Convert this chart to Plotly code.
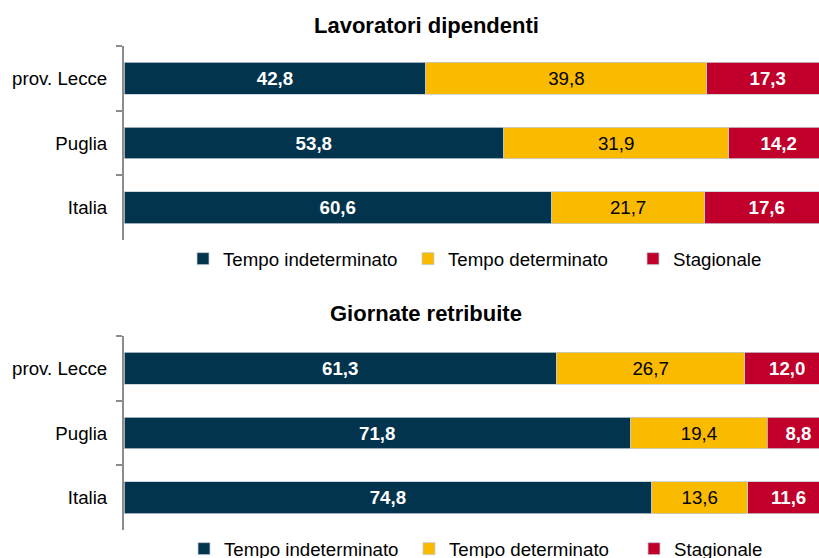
import plotly.graph_objects as go
from plotly.subplots import make_subplots

# Regions shown on both panels
categories = ["prov. Lecce", "Puglia", "Italia"]
series_names = ["Tempo indeterminato", "Tempo determinato", "Stagionale"]

# Lavoratori dipendenti (%)
lav_indeterminato = [42.8, 53.8, 60.6]
lav_determinato = [39.8, 31.9, 21.7]
lav_stagionale = [17.3, 14.2, 17.6]

# Giornate retribuite (%)
gio_indeterminato = [61.3, 71.8, 74.8]
gio_determinato = [26.7, 19.4, 13.6]
gio_stagionale = [12.0, 8.8, 11.6]

panel_titles = ["Lavoratori dipendenti", "Giornate retribuite"]

NAVY = "#03344E"
YELLOW = "#F9BA00"
RED = "#C0002A"
FONT = "Arial, Liberation Sans, sans-serif"
FS = 18.7
W, H = 819, 558
L_MARGIN = 124

colors = [NAVY, YELLOW, RED]
text_fonts = [
    dict(family=FONT, size=FS, color="white", weight="bold"),
    dict(family=FONT, size=FS, color="black"),
    dict(family=FONT, size=FS, color="white", weight="bold"),
]

fig = make_subplots(rows=2, cols=1)

panels = [
    (1, "legend", [lav_indeterminato, lav_determinato, lav_stagionale]),
    (2, "legend2", [gio_indeterminato, gio_determinato, gio_stagionale]),
]
for row, legend_id, values in panels:
    for name, vals, color, tfont in zip(series_names, values, colors, text_fonts):
        fig.add_trace(
            go.Bar(
                y=categories,
                x=vals,
                name=name,
                orientation="h",
                marker=dict(color=color, line=dict(color="#c3ccd5", width=0.8)),
                texttemplate="%{x:.1f}",
                textposition="inside",
                insidetextanchor="middle",
                insidetextfont=tfont,
                constraintext="none",
                legend=legend_id,
                hoverinfo="skip",
            ),
            row=row,
            col=1,
        )


def ydom(top_px, bottom_px):
    return [1 - bottom_px / H, 1 - top_px / H]


def xpaper(px):
    return (px - L_MARGIN) / (W - L_MARGIN)


x_max = (W - L_MARGIN) / 7.055

fig.update_xaxes(range=[0, x_max], showticklabels=False, showline=False,
                 ticks="", showgrid=False, zeroline=False, domain=[0, 1])
fig.update_yaxes(
    type="category",
    categoryorder="array",
    categoryarray=categories,
    range=[2.5, -0.5],
    tickson="boundaries",
    ticks="outside",
    ticklen=6,
    tickwidth=1.5,
    tickcolor="#8c8c8c",
    showline=True,
    linecolor="#8c8c8c",
    linewidth=2,
    ticklabelstandoff=11,
    tickfont=dict(family=FONT, size=FS, color="black"),
    showgrid=False,
    zeroline=False,
)
fig.update_yaxes(domain=ydom(46, 240), row=1, col=1)
fig.update_yaxes(domain=ydom(336, 530), row=2, col=1)

for title, y_px in zip(panel_titles, [26, 313]):
    fig.add_annotation(
        text=f"<b>{title}</b>",
        x=xpaper(426), xref="paper", xanchor="center",
        y=1 - y_px / H, yref="paper", yanchor="middle",
        showarrow=False,
        font=dict(family=FONT, size=22, color="black"),
    )

legend_common = dict(
    orientation="h",
    xanchor="left",
    yanchor="middle",
    font=dict(family=FONT, size=FS, color="black"),
    bgcolor="rgba(0,0,0,0)",
    traceorder="normal",
    entrywidth=180,
    entrywidthmode="pixels",
)
fig.update_layout(
    width=W,
    height=H,
    margin=dict(l=L_MARGIN, r=0, t=0, b=0, autoexpand=False),
    barmode="stack",
    bargap=0.51,
    separators=",.",
    plot_bgcolor="white",
    paper_bgcolor="white",
    font=dict(family=FONT, size=FS, color="black"),
    showlegend=True,
    legend=dict(x=xpaper(183), y=1 - 259 / H, **legend_common),
    legend2=dict(x=xpaper(184), y=1 - 549 / H, **legend_common),
)

fig.write_html("out.html")
